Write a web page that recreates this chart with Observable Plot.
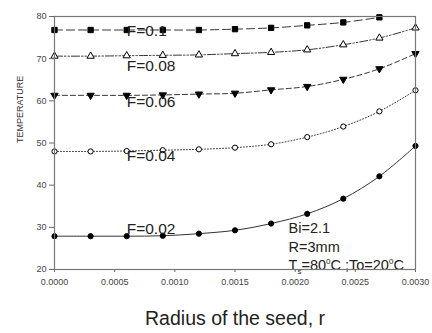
<!DOCTYPE html>
<html><head><meta charset="utf-8">
<script src="https://cdn.jsdelivr.net/npm/d3@7"></script>
<script src="https://cdn.jsdelivr.net/npm/@observablehq/plot@0.6"></script>
<style>body{margin:0;background:#fff}svg{font-family:Arial,"Liberation Sans",sans-serif}</style>
</head><body><div id="chart"></div>
<script>
const radius = [0, 0.0003, 0.0006, 0.0009, 0.0012, 0.0015, 0.0018, 0.0021, 0.0024, 0.0027, 0.0030];
const tF010 = [76.8, 76.8, 76.8, 76.8, 76.8, 77.0, 77.3, 77.9, 78.6, 79.8, null];
const tF008 = [70.6, 70.6, 70.7, 70.8, 70.9, 71.2, 71.5, 72.1, 73.3, 74.9, 77.3];
const tF006 = [61.3, 61.3, 61.3, 61.4, 61.6, 61.8, 62.6, 63.4, 65.1, 67.6, 71.2];
const tF004 = [48.0, 48.0, 48.1, 48.3, 48.5, 48.9, 49.7, 51.4, 53.9, 57.5, 62.5];
const tF002 = [27.9, 27.9, 27.9, 28.0, 28.5, 29.3, 30.9, 33.2, 36.8, 42.1, 49.3];
const seriesNames = ["F=0.1", "F=0.08", "F=0.06", "F=0.04", "F=0.02"];
const labelY = [76.6, 68.3, 59.6, 47.0, 29.7];
const xTicks = [0, 0.0005, 0.0010, 0.0015, 0.0020, 0.0025, 0.0030];
const yTicks = [20, 30, 40, 50, 60, 70, 80];
const notes = ["Bi=2.1", "R=3mm", "TS"];
const notesY = [28.6, 24.1, 19.8];

const allSeries = [tF010, tF008, tF006, tF004, tF002];
const styles = [
  {dash: "8,4", symbol: "square", fill: "black", rotate: 0, r: 3.0},
  {dash: "8,2,1.5,2,1.5,2", symbol: "triangle", fill: "white", rotate: 0, r: 2.7},
  {dash: "5,3", symbol: "triangle", fill: "black", rotate: 180, r: 2.7},
  {dash: "1,2", symbol: "circle", fill: "white", rotate: 0, r: 2.6},
  {dash: null, symbol: "circle", fill: "black", rotate: 0, r: 2.6}
];

const marks = [];
allSeries.forEach((vals, i) => {
  const rows = radius.map((x, j) => ({x, y: vals[j]})).filter(d => d.y != null);
  const s = styles[i];
  marks.push(Plot.line(rows, {x: "x", y: "y", stroke: "#333", strokeWidth: 1, strokeDasharray: s.dash, curve: "catmull-rom"}));
  marks.push(Plot.dot(rows, {x: "x", y: "y", symbol: s.symbol, r: s.r, fill: s.fill, stroke: "black", strokeWidth: 1, rotate: s.rotate}));
});

const labels = seriesNames.map((t, i) => ({t, y: labelY[i]}));
marks.push(Plot.text(labels, {x: 0.0006, y: "y", text: "t", textAnchor: "start", fontSize: 15.5, fill: "#222"}));
const noteRows = notes.map((t, i) => ({t, y: notesY[i]}));
marks.push(Plot.text(noteRows, {x: 0.001945, y: "y", text: "t", textAnchor: "start", lineAnchor: "bottom", fontSize: 14.5, fill: "#222"}));

marks.push(Plot.axisY({ticks: yTicks, tickSize: 5, tickPadding: 3, fontSize: 9, stroke: "#666", color: "#444", label: null}));
marks.push(Plot.axisX({ticks: xTicks, tickSize: 3, tickPadding: 6, fontSize: 9, tickFormat: d3.format(".4f"), stroke: "#666", color: "#444", label: null}));
marks.push(Plot.frame({stroke: "#777", strokeWidth: 1.2}));
marks.push(Plot.text(["TEMPERATURE"], {frameAnchor: "left", dx: -34, rotate: -90, text: d => d, fontSize: 9, fill: "#333"}));
marks.push(Plot.text(["Radius of the seed, r"], {frameAnchor: "bottom", dy: 55, text: d => d, fontSize: 19.5, fill: "#222"}));

const chart = Plot.plot({
  width: 432, height: 333,
  marginLeft: 54, marginRight: 17, marginTop: 16, marginBottom: 64,
  x: {domain: [0, 0.003]},
  y: {domain: [20, 80]},
  marks
});

// rebuild the T_s note with sub/superscripts
d3.select(chart).selectAll("text").filter(function() { return this.textContent === "TS"; }).each(function() {
  const t = d3.select(this);
  t.text(null);
  t.append("tspan").text("T");
  t.append("tspan").attr("font-size", 8).attr("dy", 4).text("s");
  t.append("tspan").attr("dy", -4).text("=80");
  t.append("tspan").attr("font-size", 8).attr("dy", -6).text("0");
  t.append("tspan").attr("dy", 6).text("C ;To=20");
  t.append("tspan").attr("font-size", 8).attr("dy", -6).text("0");
  t.append("tspan").attr("dy", 6).text("C");
});
document.getElementById("chart").append(chart);
</script></body></html>
